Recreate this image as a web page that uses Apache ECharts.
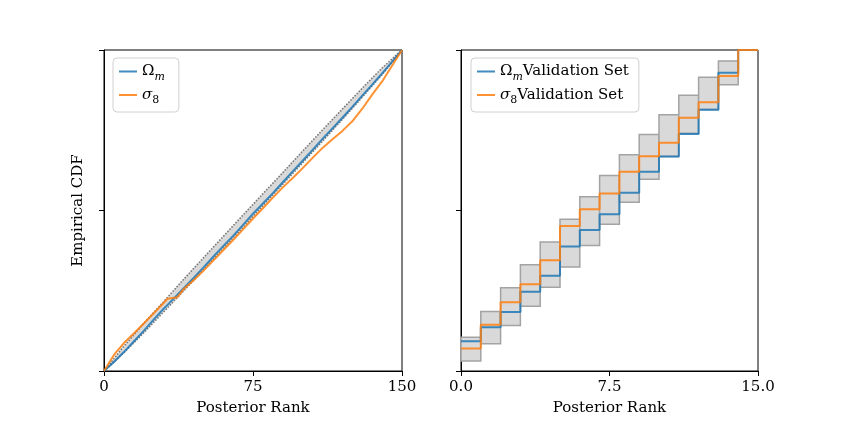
<!DOCTYPE html>
<html>
<head>
<meta charset="utf-8">
<script src="https://cdn.jsdelivr.net/npm/echarts@6/dist/echarts.min.js"></script>
<style>
html, body { margin: 0; padding: 0; background: #fff; }
#chart { width: 843px; height: 421px; }
</style>
</head>
<body>
<div id="chart"></div>
<script>
// ============================ data ============================
// left panel: ECDF of posterior ranks (150 ranks)
var rankAll = [0, 5, 10, 15, 20, 25, 30, 32, 37, 40, 45, 50, 55, 60, 65, 70, 75, 80, 85, 90, 95, 100, 105, 110, 115, 120, 125, 130, 135, 140, 145, 150];
var cdfOmega = [0, 0.028, 0.059, 0.092, 0.125, 0.160, 0.194, 0.206, 0.238, 0.257, 0.289, 0.322, 0.356, 0.389, 0.421, 0.455, 0.490, 0.522, 0.554, 0.588, 0.622, 0.655, 0.689, 0.723, 0.756, 0.789, 0.823, 0.858, 0.892, 0.927, 0.963, 1.0];
var cdfSigma = [0, 0.050, 0.087, 0.117, 0.148, 0.180, 0.212, 0.225, 0.230, 0.255, 0.282, 0.312, 0.344, 0.376, 0.408, 0.441, 0.475, 0.507, 0.540, 0.572, 0.601, 0.632, 0.664, 0.695, 0.722, 0.748, 0.778, 0.817, 0.861, 0.902, 0.951, 1.0];
var bandRank = [0, 10, 20, 30, 40, 50, 60, 70, 80, 90, 100, 110, 120, 130, 140, 150];
var bandLow  = [0, 0.057, 0.119, 0.184, 0.249, 0.315, 0.381, 0.448, 0.515, 0.582, 0.649, 0.716, 0.784, 0.853, 0.923, 1.0];
var bandHigh = [0, 0.077, 0.148, 0.216, 0.285, 0.352, 0.419, 0.486, 0.552, 0.618, 0.685, 0.751, 0.816, 0.881, 0.944, 1.0];

// right panel: validation set (15 ranks)
var valRank = [0, 1, 2, 3, 4, 5, 6, 7, 8, 9, 10, 11, 12, 13, 14, 15];
var valOmega = [0.093, 0.136, 0.184, 0.247, 0.297, 0.388, 0.439, 0.488, 0.555, 0.621, 0.668, 0.738, 0.814, 0.929, 1.0, 1.0];
var valSigma = [0.070, 0.144, 0.214, 0.270, 0.345, 0.452, 0.504, 0.553, 0.621, 0.669, 0.711, 0.789, 0.837, 0.919, 1.0, 1.0];
var valBandLow  = [0.031, 0.085, 0.142, 0.202, 0.261, 0.324, 0.391, 0.457, 0.526, 0.597, 0.668, 0.741, 0.815, 0.892, 1.0];
var valBandHigh = [0.105, 0.185, 0.259, 0.331, 0.402, 0.473, 0.543, 0.609, 0.674, 0.737, 0.798, 0.859, 0.915, 0.966, 1.0];

var leftTicks = [0, 75, 150];
var rightTicks = ['0.0', '7.5', '15.0'];

// ============================ helpers ============================
var FONT = 'DejaVu Serif';
var BLUE = 'rgba(31,119,180,0.85)';
var ORANGE = 'rgba(255,127,14,0.85)';
var BAND_FILL = '#d9d9d9';
var BAND_EDGE = '#767676';

function zip(xs, ys) {
	return xs.map(function (x, i) { return [x, ys[i]]; });
}

var legendText = {
	'om': '{g|Ω}{sub|m}',
	'si': '{gi|σ}{sub8|8}',
	'omv': '{g|Ω}{sub|m}{t|Validation Set}',
	'siv': '{gi|σ}{sub8|8}{t|Validation Set}'
};
var rich = {
	g: { fontFamily: FONT, fontSize: 15, lineHeight: 22, color: '#000' },
	gi: { fontFamily: FONT, fontSize: 15, fontStyle: 'italic', lineHeight: 22, color: '#000' },
	sub: { fontFamily: FONT, fontSize: 11, fontStyle: 'italic', lineHeight: 11, verticalAlign: 'bottom', color: '#000' },
	sub8: { fontFamily: FONT, fontSize: 11, lineHeight: 11, verticalAlign: 'bottom', color: '#000' },
	t: { fontFamily: FONT, fontSize: 15, lineHeight: 22, color: '#000' }
};

function legendBox(left, names, padRight) {
	return {
		left: left, top: 58,
		orient: 'vertical',
		data: names.map(function (n) { return { name: n, icon: 'rect' }; }),
		itemWidth: 18, itemHeight: 2, itemGap: 5,
		padding: [6, padRight, 6, 6],
		borderColor: '#d0d0d0', borderWidth: 1, borderRadius: 4,
		backgroundColor: 'rgba(255,255,255,0.8)',
		formatter: function (name) { return legendText[name]; },
		textStyle: { rich: rich }
	};
}

function xAxisOf(idx, max, interval, labels) {
	return {
		type: 'value', gridIndex: idx, min: 0, max: max, interval: interval,
		name: 'Posterior Rank', nameLocation: 'middle', nameGap: 30,
		nameTextStyle: { fontFamily: FONT, fontSize: 15, color: '#000' },
		axisLine: { show: true, lineStyle: { color: '#000', width: 1 } },
		axisTick: { show: true, length: 5, lineStyle: { color: '#000' } },
		axisLabel: {
			margin: 9, fontFamily: FONT, fontSize: 15, color: '#000',
			formatter: function (v) { return labels[Math.round(v / interval)]; }
		},
		splitLine: { show: false }
	};
}

function yAxisOf(idx, name) {
	return {
		type: 'value', gridIndex: idx, min: 0, max: 1, interval: 0.5,
		name: name, nameLocation: 'middle', nameGap: 18, nameRotate: 90,
		nameTextStyle: { fontFamily: FONT, fontSize: 15, color: '#000' },
		axisLine: { show: true, lineStyle: { color: '#000', width: 1 } },
		axisTick: { show: true, length: 5, lineStyle: { color: '#000' } },
		axisLabel: { show: false },
		splitLine: { show: false }
	};
}

// ============================ chart ============================
var myChart = echarts.init(document.getElementById('chart'));

var option = {
	animation: false,
	backgroundColor: '#fff',
	grid: [
		{ left: 104, top: 50, width: 298, height: 324, show: true, borderColor: '#000', borderWidth: 1 },
		{ left: 461, top: 50, width: 297, height: 324, show: true, borderColor: '#000', borderWidth: 1 }
	],
	xAxis: [
		xAxisOf(0, 150, 75, leftTicks),
		xAxisOf(1, 15, 7.5, rightTicks)
	],
	yAxis: [
		yAxisOf(0, 'Empirical CDF'),
		yAxisOf(1, '')
	],
	legend: [
		legendBox(113, ['om', 'si'], 14),
		legendBox(471, ['omv', 'siv'], 10)
	],
	series: [
		// left band: filled quads between consecutive band points
		{
			name: 'bandFill', type: 'custom', xAxisIndex: 0, yAxisIndex: 0, z: 1, silent: true,
			data: bandRank.slice(0, -1).map(function (x, i) {
				return [x, bandRank[i + 1], bandLow[i], bandHigh[i], bandLow[i + 1], bandHigh[i + 1]];
			}),
			renderItem: function (params, api) {
				var a = api.coord([api.value(0), api.value(2)]);
				var b = api.coord([api.value(0), api.value(3)]);
				var c = api.coord([api.value(1), api.value(5)]);
				var d = api.coord([api.value(1), api.value(4)]);
				return {
					type: 'polygon',
					shape: { points: [a, b, c, d] },
					style: { fill: BAND_FILL, stroke: BAND_FILL, lineWidth: 0.5 }
				};
			}
		},
		{
			name: 'bandLo', type: 'line', xAxisIndex: 0, yAxisIndex: 0,
			symbol: 'none', silent: true, z: 2,
			data: zip(bandRank, bandLow),
			lineStyle: { color: BAND_EDGE, width: 1.6, type: [1.5, 1.5] }
		},
		{
			name: 'bandHi', type: 'line', xAxisIndex: 0, yAxisIndex: 0,
			symbol: 'none', silent: true, z: 2,
			data: zip(bandRank, bandHigh),
			lineStyle: { color: BAND_EDGE, width: 1.6, type: [1.5, 1.5] }
		},
		{
			name: 'om', type: 'line', xAxisIndex: 0, yAxisIndex: 0,
			symbol: 'none', z: 3, color: BLUE,
			data: zip(rankAll, cdfOmega),
			lineStyle: { color: BLUE, width: 2 }
		},
		{
			name: 'si', type: 'line', xAxisIndex: 0, yAxisIndex: 0,
			symbol: 'none', z: 4, color: ORANGE,
			data: zip(rankAll, cdfSigma),
			lineStyle: { color: ORANGE, width: 2 }
		},
		// right band: one box per rank bin
		{
			name: 'valBand', type: 'custom', xAxisIndex: 1, yAxisIndex: 1, z: 1, silent: true,
			data: valBandLow.map(function (lo, k) { return [valRank[k], valRank[k + 1], lo, valBandHigh[k]]; }),
			renderItem: function (params, api) {
				var p0 = api.coord([api.value(0), api.value(3)]);
				var p1 = api.coord([api.value(1), api.value(2)]);
				return {
					type: 'rect',
					shape: { x: p0[0], y: p0[1], width: p1[0] - p0[0], height: p1[1] - p0[1] },
					style: { fill: BAND_FILL, stroke: '#a3a3a3', lineWidth: 1.5 }
				};
			}
		},
		{
			name: 'omv', type: 'line', xAxisIndex: 1, yAxisIndex: 1,
			symbol: 'none', step: 'end', z: 3, color: BLUE,
			data: zip(valRank, valOmega),
			lineStyle: { color: BLUE, width: 2 }
		},
		{
			name: 'siv', type: 'line', xAxisIndex: 1, yAxisIndex: 1,
			symbol: 'none', step: 'end', z: 4, color: ORANGE,
			data: zip(valRank, valSigma),
			lineStyle: { color: ORANGE, width: 2 }
		}
	]
};
myChart.setOption(option);
</script>
</body>
</html>
